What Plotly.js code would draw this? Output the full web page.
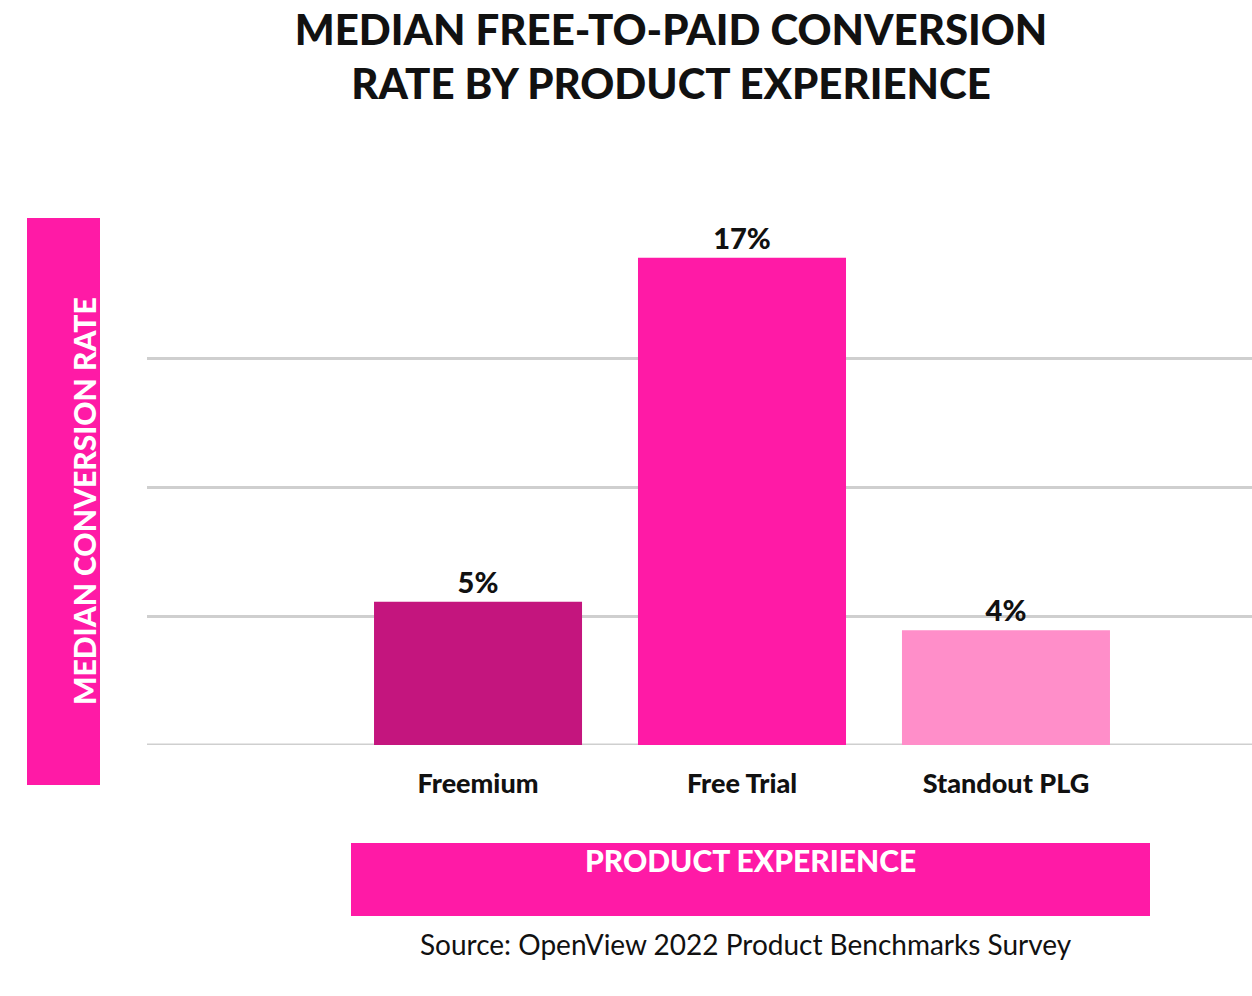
<!DOCTYPE html>
<html>
<head>
<meta charset="utf-8">
<script src="https://cdn.plot.ly/plotly-3.0.1.min.js"></script>
<style>html,body{margin:0;background:#fff;}#chart{width:1252px;height:996px;}</style>
</head>
<body>
<div id="chart"></div>
<script>
const categories = ["Freemium", "Free Trial", "Standout PLG"];
const rates = [5, 17, 4];
const labels = ["5%", "17%", "4%"];
const barColors = ["#C4157E", "#FF1AA6", "#FF8EC9"];

const W = 1252, H = 996;
const plot = { l: 147, r: 0, t: 229, b: 251 };
const pw = W - plot.l - plot.r, ph = H - plot.t - plot.b;
const px = (x) => (x - plot.l) / pw;
const py = (y) => (H - plot.b - y) / ph;
const pink = "#FF1AA6";
const font = "Lato, 'Open Sans', sans-serif";

const xs = categories.map((_, i) => i);

const trace = {
  type: "bar",
  x: xs,
  y: rates,
  width: 0.788,
  marker: { color: barColors },
  text: labels,
  textposition: "outside",
  cliponaxis: false,
  textfont: { family: font, size: 29, color: "#111", weight: 900 },
  hoverinfo: "skip",
};

const layout = {
  width: W, height: H,
  margin: plot,
  paper_bgcolor: "#fff", plot_bgcolor: "#fff",
  showlegend: false,
  title: {
    text: "MEDIAN FREE-TO-PAID CONVERSION<br>RATE BY PRODUCT EXPERIENCE",
    x: 0.536, xanchor: "center", y: 0.955, yanchor: "top",
    font: { family: font, size: 42, color: "#111", weight: 900 },
  },
  xaxis: {
    range: [-1.254, 0.932 + 2],
    tickvals: xs, ticktext: categories,
    tickfont: { family: font, size: 27, color: "#111", weight: 900 },
    showgrid: false, zeroline: false, showline: false, ticks: "",
    ticklabelstandoff: 20,
  },
  yaxis: {
    range: [0, 18], dtick: 4.5, showticklabels: false,
    gridcolor: "#cfcfcf", gridwidth: 3, zeroline: false, showline: false,
  },
  shapes: [
    { type: "rect", xref: "paper", yref: "paper", x0: px(27), x1: px(100), y0: py(785), y1: py(218), fillcolor: pink, line: { width: 0 } },
    { type: "rect", xref: "paper", yref: "paper", x0: px(351), x1: px(1150), y0: py(916), y1: py(843), fillcolor: pink, line: { width: 0 } },
    { type: "line", xref: "paper", yref: "y", x0: 0, x1: 1, y0: 0, y1: 0, line: { color: "#cfcfcf", width: 3 }, layer: "below" },
  ],
  annotations: [
    { xref: "paper", yref: "paper", x: px(64), y: py(501), text: "MEDIAN CONVERSION RATE", textangle: -90, showarrow: false,
      font: { family: font, size: 30, color: "#fff", weight: 900 } },
    { xref: "paper", yref: "paper", x: px(750), y: py(880), text: "PRODUCT EXPERIENCE", showarrow: false,
      font: { family: font, size: 30, color: "#fff", weight: 900 } },
    { xref: "paper", yref: "paper", x: px(746), y: py(963), text: "Source: OpenView 2022 Product Benchmarks Survey", showarrow: false,
      font: { family: font, size: 28, color: "#111" } },
  ],
};

Plotly.newPlot("chart", [trace], layout, { displayModeBar: false, staticPlot: true });
</script>
</body>
</html>
